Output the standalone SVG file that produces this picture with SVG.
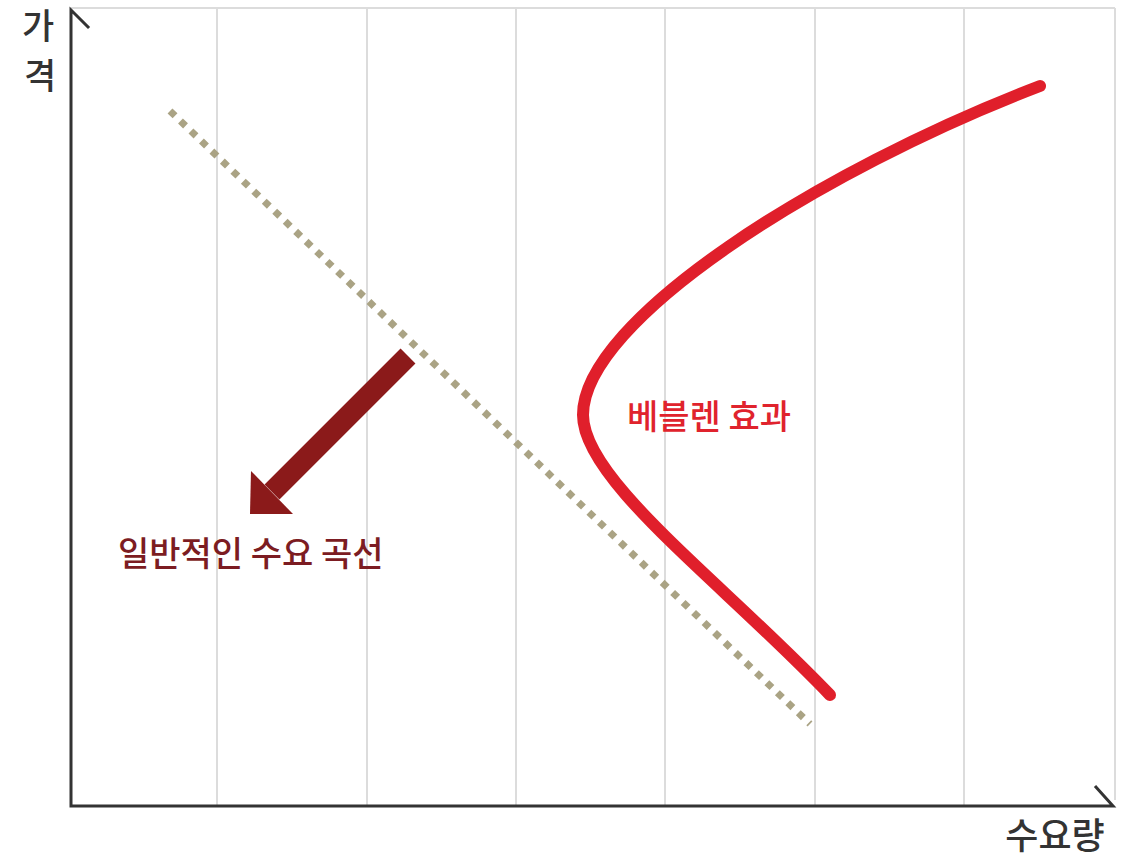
<svg xmlns="http://www.w3.org/2000/svg" width="1140" height="860" viewBox="0 0 1140 860">
<style>
.grid{stroke:#dcdcdc;stroke-width:2;fill:none}
.axis{stroke:#333;stroke-width:3;fill:none;stroke-linecap:square}
.lbl{font-family:"Noto Sans CJK KR","Noto Sans",sans-serif;font-weight:500}
</style>
<rect width="1140" height="860" fill="#fff"/>
<g id="grid">
<line class="grid" x1="71" y1="8" x2="1115" y2="8"/>
<line class="grid" x1="217" y1="8" x2="217" y2="806"/>
<line class="grid" x1="367" y1="8" x2="367" y2="806"/>
<line class="grid" x1="516" y1="8" x2="516" y2="806"/>
<line class="grid" x1="665" y1="8" x2="665" y2="806"/>
<line class="grid" x1="815" y1="8" x2="815" y2="806"/>
<line class="grid" x1="964" y1="8" x2="964" y2="806"/>
<line class="grid" x1="1115" y1="8" x2="1115" y2="800"/>
</g>
<g id="axes">
<polyline class="axis" points="88,27 71,10 71,806 1113,806 1096,787"/>
</g>
<g id="axis-labels">
<text class="lbl" x="38" y="39" font-size="35" fill="#333" text-anchor="middle">가</text>
<text class="lbl" x="40" y="89" font-size="35" fill="#333" text-anchor="middle">격</text>
<text class="lbl" x="1055" y="849" font-size="36" fill="#333" text-anchor="middle">수요량</text>
</g>
<g id="normal-demand">
<line x1="170" y1="111" x2="810" y2="724" stroke="#aaa384" stroke-width="7" stroke-dasharray="7 7.5"/>
</g>
<g id="veblen">
<path d="M1040,86 C820,170 583,320 583,415 C583,480 720,580 830,695" stroke="#e01f2b" stroke-width="12" fill="none" stroke-linecap="round"/>
</g>
<g id="connectors">
<line x1="408" y1="356" x2="272" y2="492" stroke="#8b1a1a" stroke-width="21"/>
<polygon points="250,514 251,471 293,514" fill="#8b1a1a"/>
</g>
<g id="labels">
<text class="lbl" x="118" y="566" font-size="34" fill="#7c1c22">일반적인 수요 곡선</text>
<text class="lbl" x="627" y="429" font-size="34" fill="#e0232d">베블렌 효과</text>
</g>
</svg>
